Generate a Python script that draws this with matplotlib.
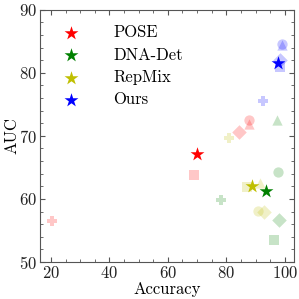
import matplotlib
matplotlib.use('Agg')
import matplotlib.pyplot as plt
from matplotlib.ticker import MultipleLocator

plt.rcParams['font.family'] = ['cmr10', 'DejaVu Serif']
plt.rcParams['mathtext.fontset'] = 'cm'
plt.rcParams['axes.formatter.use_mathtext'] = True

methods = ['POSE', 'DNA-Det', 'RepMix', 'Ours']
colors = ['red', 'green', 'y', 'blue']

# main result (star) for each method
star_acc = [69.9, 93.5, 88.7, 97.7]
star_auc = [67.1, 61.3, 62.1, 81.5]

# other settings: circle, triangle, square, diamond, plus
variant_markers = ['o', '^', 's', 'D', 'P']
pose_acc = [87.8, 87.8, 69.0, 84.4, 20.2]
pose_auc = [72.6, 71.9, 63.8, 70.6, 56.5]
dna_acc = [97.7, 97.5, 96.3, 98.1, 78.2]
dna_auc = [64.2, 72.6, 53.4, 56.7, 59.8]
repmix_acc = [90.9, 91.5, 87.0, 93.0, 80.9]
repmix_auc = [58.1, 62.5, 61.9, 58.0, 69.7]
ours_acc = [99.2, 99.2, 98.5, 98.5, 92.4]
ours_auc = [84.6, 84.5, 81.0, 82.0, 75.6]

variant_acc = [pose_acc, dna_acc, repmix_acc, ours_acc]
variant_auc = [pose_auc, dna_auc, repmix_auc, ours_auc]

fig = plt.figure(figsize=(2.99, 2.99), dpi=100)
ax = fig.add_axes([0.134, 0.124, 0.849, 0.843])

for i in range(len(methods)):
    for j in range(len(variant_markers)):
        ax.scatter(variant_acc[i][j], variant_auc[i][j], marker=variant_markers[j],
                   s=55, color=colors[i], alpha=0.22, linewidths=0, zorder=2)

for i in range(len(methods)):
    ax.scatter(star_acc[i], star_auc[i], marker='*', s=110, color=colors[i],
               linewidths=0, label=methods[i], zorder=3)

ax.set_xlim(16.25, 103.15)
ax.set_ylim(50, 90)
ax.xaxis.set_major_locator(MultipleLocator(20))
ax.xaxis.set_minor_locator(MultipleLocator(5))
ax.yaxis.set_major_locator(MultipleLocator(10))
ax.yaxis.set_minor_locator(MultipleLocator(2))
ax.tick_params(which='both', direction='in', top=True, right=True, labelsize=12,
               colors='#555555', labelcolor='#222222')
ax.tick_params(which='major', length=3.5, pad=2)
ax.tick_params(which='minor', length=2)
for s in ax.spines.values():
    s.set_color('#555555')

ax.set_xlabel('Accuracy', fontsize=12, labelpad=1)
ax.set_ylabel('AUC', fontsize=12, labelpad=0)

ax.legend(loc='upper left', frameon=False, fontsize=12, labelspacing=0.42,
          handletextpad=1.5, borderaxespad=0.6, bbox_to_anchor=(-0.008, 1.006))

fig.savefig('out.png', dpi=100)
